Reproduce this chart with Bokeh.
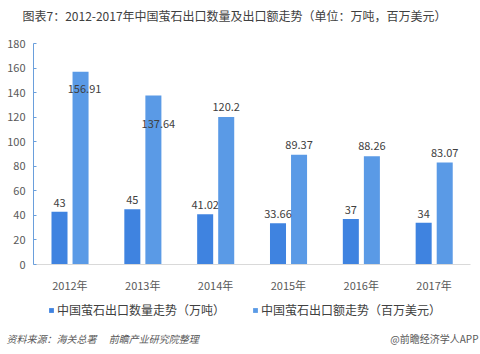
from bokeh.plotting import figure
from bokeh.layouts import column
from bokeh.models import FactorRange, Range1d, Label, Legend, LegendItem, ColumnDataSource, FixedTicker
from bokeh.transform import dodge
from bokeh.core.properties import value
from bokeh.embed import file_html
from bokeh.resources import INLINE

years = ["2012年", "2013年", "2014年", "2015年", "2016年", "2017年"]
quantity = [43, 45, 41.02, 33.66, 37, 34]
amount = [156.91, 137.64, 120.2, 89.37, 88.26, 83.07]
quantity_labels = ["43", "45", "41.02", "33.66", "37", "34"]
amount_labels = ["156.91", "137.64", "120.2", "89.37", "88.26", "83.07"]
y_ticks = [0, 20, 40, 60, 80, 100, 120, 140, 160, 180]

title_text = "图表7：2012-2017年中国萤石出口数量及出口额走势（单位：万吨，百万美元）"
series_names = ["中国萤石出口数量走势（万吨）", "中国萤石出口额走势（百万美元）"]
source_text = "资料来源：海关总署\u3000 前瞻产业研究院整理"
brand_text = "@前瞻经济学人APP"

# label pixel offsets (style, not data)
amount_label_dx = [4, 5, 0, 0, 0, 0]
amount_label_dy = [-21, -32, 6, 6, 6, 6]

FONT = "Noto Sans CJK SC"
C_DARK = "#3F83E0"
C_LIGHT = "#5A9AE6"
W = 480
H_HEAD = 35
H_FOOT = 59
H_MAIN = 354 - H_HEAD - H_FOOT


def blank(h):
    f = figure(width=W, height=h, x_range=Range1d(0, W), y_range=Range1d(0, h),
               output_backend="svg", toolbar_location=None,
               x_axis_type=None, y_axis_type=None, frame_align=False,
               min_border=0, min_border_left=0, min_border_right=0,
               min_border_top=0, min_border_bottom=0)
    f.outline_line_color = None
    f.xgrid.grid_line_color = None
    f.ygrid.grid_line_color = None
    return f


# ---- header
head = blank(H_HEAD)
head.add_layout(Label(x=22, y=H_HEAD - 15, text=title_text, text_align="left",
                      text_baseline="middle", text_font=FONT, text_font_size="12px",
                      text_color="#404040"))

# ---- main chart
src = ColumnDataSource(dict(
    year=years, quantity=quantity, amount=amount,
    qlab=quantity_labels, alab=amount_labels,
    adx=amount_label_dx, ady=[-d for d in amount_label_dy],
))

p = figure(width=W, height=H_MAIN, x_range=FactorRange(*years), y_range=Range1d(0, 180),
           output_backend="svg", toolbar_location=None, frame_align=False,
           min_border_left=33, min_border_right=10, min_border_top=8,
           min_border_bottom=H_MAIN - 8 - 225)
p.outline_line_color = None
p.xgrid.grid_line_color = None
p.ygrid.grid_line_color = None

r1 = p.vbar(x=dodge("year", -0.143, range=p.x_range), top="quantity", width=0.22,
            source=src, color=C_DARK, line_color=None)
r2 = p.vbar(x=dodge("year", 0.146, range=p.x_range), top="amount", width=0.22,
            source=src, color=C_LIGHT, line_color=None)

p.text(x=dodge("year", -0.143, range=p.x_range), y="quantity", text="qlab", source=src,
       text_align="center", text_baseline="bottom", y_offset=-5,
       text_font=value(FONT), text_font_size="11px", text_color="#404040")
p.text(x=dodge("year", 0.146, range=p.x_range), y="amount", text="alab", source=src,
       text_align="center", text_baseline="bottom", x_offset="adx", y_offset="ady",
       text_font=value(FONT), text_font_size="11px", text_color="#404040")

p.yaxis.ticker = FixedTicker(ticks=y_ticks)
p.yaxis.axis_line_color = "#6A9FDC"
p.yaxis.major_tick_line_color = "#6A9FDC"
p.yaxis.major_tick_in = 3
p.yaxis.major_tick_out = 0
p.yaxis.minor_tick_line_color = None
p.yaxis.major_label_standoff = 8
p.yaxis.major_label_text_font = FONT
p.yaxis.major_label_text_font_size = "11px"
p.yaxis.major_label_text_color = "#595959"

p.xaxis.axis_line_color = "#D9D9D9"
p.xaxis.major_tick_line_color = None
p.xaxis.minor_tick_line_color = None
p.xaxis.major_label_standoff = 6
p.xaxis.major_label_text_font = FONT
p.xaxis.major_label_text_font_size = "11px"
p.xaxis.major_label_text_color = "#595959"

# ---- footer (legend + source)
foot = blank(H_FOOT)
# legend key renderers: one bar each, kept below the visible range
key = ColumnDataSource(dict(x=[-100], top=[-100], bottom=[-110]))
k1 = foot.vbar(x="x", top="top", bottom="bottom", width=1, source=key,
               color=C_DARK, line_color=None)
k2 = foot.vbar(x="x", top="top", bottom="bottom", width=1, source=key,
               color=C_LIGHT, line_color=None)
legend = Legend(items=[LegendItem(label=series_names[0], renderers=[k1]),
                       LegendItem(label=series_names[1], renderers=[k2])],
                orientation="horizontal", location=(48, H_FOOT - 15 - 8),
                border_line_color=None, background_fill_alpha=0,
                padding=0, margin=0, spacing=27,
                glyph_width=6, glyph_height=6, label_standoff=3, label_height=12,
                label_text_font=FONT, label_text_font_size="12px",
                label_text_color="#404040")
foot.add_layout(legend, "center")
foot.add_layout(Label(x=6, y=H_FOOT - 43, text=source_text, text_align="left",
                      text_baseline="middle", text_font=FONT, text_font_style="italic",
                      text_font_size="10px", text_color="#595959"))
foot.add_layout(Label(x=478, y=H_FOOT - 43, text=brand_text, text_align="right",
                      text_baseline="middle", text_font=FONT,
                      text_font_size="10px", text_color="#595959"))

layout = column(head, p, foot, spacing=0)
open("out.html", "w").write(file_html(layout, INLINE))
